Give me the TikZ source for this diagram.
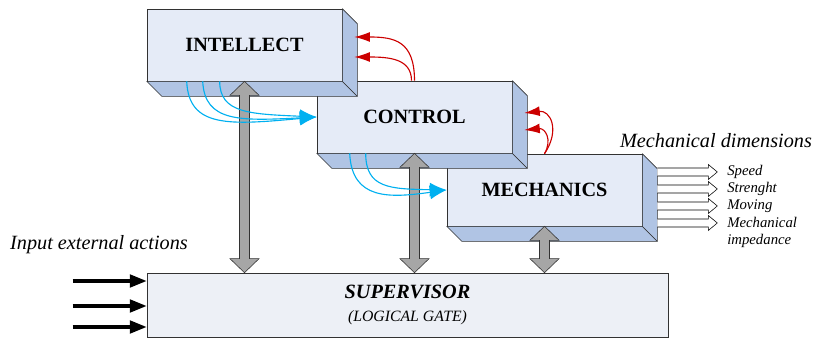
\documentclass[tikz,border=0pt]{standalone}
\usepackage{fontspec}
\setmainfont{Liberation Serif}
\usepackage{tikz}
\usetikzlibrary{arrows,arrows.meta,calc,positioning}
\definecolor{front-blue}{RGB}{229,235,247}
\definecolor{side-blue}{RGB}{176,196,228}
\definecolor{sup-gray}{RGB}{237,240,246}
\definecolor{arrow-gray}{RGB}{166,166,166}
\definecolor{sky-blue}{RGB}{0,176,240}
\definecolor{dark-red}{RGB}{204,0,0}
\definecolor{edge-gray}{RGB}{50,50,50}

\tikzset{
  block/.style={draw=edge-gray, fill=front-blue, minimum width=4.875cm, minimum height=1.8cm, inner sep=0pt, font=\fontsize{14.4}{17}\selectfont\bfseries},
  face/.style={draw=edge-gray, fill=side-blue, line join=round},
  feedback/.style={dark-red, thick, -{Latex[length=11pt,width=7pt]}},
  flow/.style={sky-blue, thick, -{Latex[length=12pt,width=10pt]}},
  link/.style={draw=edge-gray, fill=arrow-gray},
  output/.style={draw=black, fill=white},
  input/.style={line width=2.2pt, -{Triangle[length=12pt,width=9pt]}},
  tag/.style={font=\fontsize{10.5}{12.3}\selectfont\itshape, anchor=west, inner sep=0pt, align=left}
}

% side and bottom faces of a block
\newcommand{\blockfaces}[1]{%
  \draw[face] (#1.south west) -- (#1.south east) -- ++(15,15) -- ($(#1.south west)+(15,15)$) -- cycle;
  \draw[face] (#1.north east) -- ++(15,15) -- ($(#1.south east)+(15,15)$) -- (#1.south east) -- cycle;}

% grey two-way arrow
\newcommand{\linkarrow}[2]{%
  \draw[link] (#1) -- ++(14.5,14) -- ++(-9.5,0) -- ($(#2)+(5,-14)$) -- ++(9.5,0) -- (#2) -- ++(-14.5,-14) -- ++(9.5,0) -- ($(#1)+(-5,14)$) -- ++(-9.5,0) -- cycle;}

% hollow output arrow
\newcommand{\outarrow}[1]{%
  \draw[output] ($(#1)+(0,-4)$) -- ++(51,0) -- ++(0,-3.5) -- ++(9,7.5) -- ++(-9,7.5) -- ++(0,-3.5) -- ++(-51,0);}

\begin{document}
\begin{tikzpicture}[x=0.025cm, y=-0.025cm]
\useasboundingbox (0,0) rectangle (816,339);

\node[block] (mechanics) at (544.5,190) {MECHANICS};
\blockfaces{mechanics}
\node[block] (control) at (414.5,117) {CONTROL};
\blockfaces{control}
\node[block] (intellect) at (244.5,45) {INTELLECT};
\blockfaces{intellect}

\node[draw=edge-gray, fill=sup-gray, minimum width=13.025cm, minimum height=1.6cm, align=center] (supervisor) at (407.5,305)
  {{\fontsize{14.4}{17}\selectfont\bfseries\itshape SUPERVISOR}\\[4pt]{\fontsize{11.2}{13}\selectfont\itshape (LOGICAL GATE)}};

% grey links to the supervisor
\coordinate (intellect-foot) at (intellect.south |- supervisor.north);
\coordinate (control-foot) at (control.south |- supervisor.north);
\coordinate (mechanics-foot) at (mechanics.south |- supervisor.north);
\linkarrow{intellect.south}{intellect-foot}
\linkarrow{control.south}{control-foot}
\linkarrow{mechanics.south}{mechanics-foot}

% blue flows
\draw[flow] ($(intellect.south west)+(40,0)$) .. controls +(2,47) and +(-87,8) .. (control.west);
\draw[flow] ($(intellect.south west)+(56,0)$) .. controls +(2,41) and +(-77,4) .. (control.west);
\draw[flow] ($(intellect.south west)+(73,0)$) .. controls +(0,32) and +(-67,-3) .. (control.west);
\draw[flow] ($(control.south west)+(33,0)$) .. controls +(2,47) and +(-57,8) .. (mechanics.west);
\draw[flow] ($(control.south west)+(49,0)$) .. controls +(0,35) and +(-57,-1) .. (mechanics.west);

% red feedback
\draw[feedback] (control.north) .. controls +(0,-40) and +(40,0) .. ($(intellect.east)+(12,-8)$);
\draw[feedback] ($(control.north)+(-3,0)$) .. controls +(0,-22) and +(35,0) .. ($(intellect.east)+(12,12)$);
\draw[feedback] (mechanics.north) .. controls +(16,-24) and +(26,-3) .. ($(control.east)+(12,-4)$);
\draw[feedback] (mechanics.north) .. controls +(8,-14) and +(21,-2) .. ($(control.east)+(12,13)$);

% inputs
\node[font=\fontsize{14.4}{17}\selectfont\itshape, inner sep=0pt] (inputs) at (99,245) {Input external actions};
\coordinate (in1) at ($(supervisor.west)+(-74,-24)$);
\coordinate (in2) at ($(supervisor.west)+(-74,1)$);
\coordinate (in3) at ($(supervisor.west)+(-74,22)$);
\draw[input] (in1) -- (in1 -| supervisor.west);
\draw[input] (in2) -- (in2 -| supervisor.west);
\draw[input] (in3) -- (in3 -| supervisor.west);

% outputs
\node[font=\fontsize{14.4}{17}\selectfont\itshape, inner sep=0pt] (dimensions) at (716,141) {Mechanical dimensions};
\outarrow{$(mechanics.east)+(15,-18)$}
\outarrow{$(mechanics.east)+(15,-1)$}
\outarrow{$(mechanics.east)+(15,16)$}
\outarrow{$(mechanics.east)+(15,33)$}
\node[tag] (speed) at (727,172) {Speed};
\node[tag] (strenght) at (727,189) {Strenght};
\node[tag] (moving) at (727,206) {Moving};
\node[tag, anchor=north west] (impedance) at (727,217) {Mechanical\\impedance};

\end{tikzpicture}
\end{document}
